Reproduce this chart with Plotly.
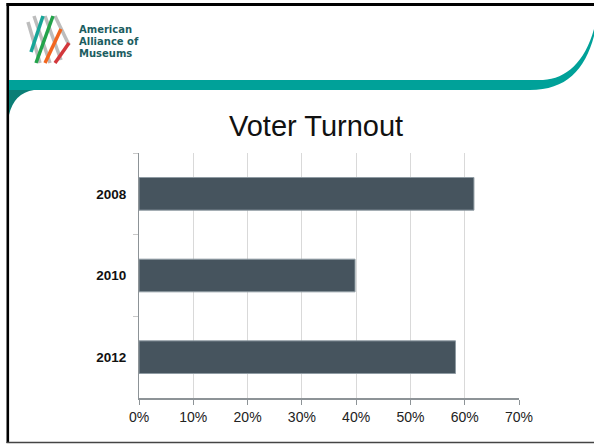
import plotly.graph_objects as go

years = ["2008", "2010", "2012"]
turnout = [61.7, 39.8, 58.3]
x_ticks = [0, 10, 20, 30, 40, 50, 60, 70]
x_tick_labels = ["0%", "10%", "20%", "30%", "40%", "50%", "60%", "70%"]

W, H = 594, 445
L, R, T, B = 139, 75, 153, 47
PW, PH = W - L - R, H - T - B


def px(x):
    return (x - L) / PW


def py(y):
    return (H - B - y) / PH


def path(cmds):
    out = []
    for c in cmds:
        if isinstance(c, str):
            out.append(c)
        else:
            out.append(f"{px(c[0]):.5f},{py(c[1]):.5f}")
    return " ".join(out)


fig = go.Figure()
fig.add_trace(go.Bar(
    y=years, x=turnout, orientation="h",
    marker=dict(color="#46545e", line=dict(color="#8f9ba3", width=1)),
    hoverinfo="skip",
))

shapes = []
# frame
shapes.append(dict(type="line", xref="paper", yref="paper", x0=px(7.8), x1=px(7.8), y0=py(3), y1=py(443),
                   line=dict(color="black", width=2.6)))
shapes.append(dict(type="line", xref="paper", yref="paper", x0=px(6.5), x1=px(594), y0=py(4.5), y1=py(4.5),
                   line=dict(color="black", width=3)))
shapes.append(dict(type="line", xref="paper", yref="paper", x0=px(6.5), x1=px(594), y0=py(442.5), y1=py(442.5),
                   line=dict(color="#444444", width=1.5)))
# teal band with curve to top right
shapes.append(dict(type="path", xref="paper", yref="paper",
                   path=path(["M", (9, 80), "L", (543, 80), "C", (566, 79), (585, 62), (594, 29),
                              "L", (594, 36), "C", (585, 70), (566, 90), (530, 90), "L", (9, 90), "Z"]),
                   fillcolor="#00a199", line=dict(width=0)))
# dark teal corner on left
shapes.append(dict(type="path", xref="paper", yref="paper",
                   path=path(["M", (9, 90), "L", (34, 90), "Q", (14, 93), (9, 115), "Z"]),
                   fillcolor="#0b7e76", line=dict(width=0)))

# logo strokes
gray = "#bdbdbd"
for (x0, y0, x1, y1) in [(28, 22, 40, 63), (34, 16, 50, 63), (45, 16, 61, 60), (55, 16, 69, 45)]:
    shapes.append(dict(type="line", xref="paper", yref="paper", x0=px(x0), y0=py(y0), x1=px(x1), y1=py(y1),
                       line=dict(color=gray, width=3.5)))
for (x0, y0, x1, y1, c) in [(43, 16, 31, 52, "#17a598"), (53, 16, 36, 63, "#23a34b"),
                            (61, 29, 45, 63, "#f2661f"), (69, 43, 55, 63, "#d2383c")]:
    shapes.append(dict(type="line", xref="paper", yref="paper", x0=px(x0), y0=py(y0), x1=px(x1), y1=py(y1),
                       line=dict(color=c, width=3.5)))

annotations = [
    dict(text="Voter Turnout", xref="paper", yref="paper", x=px(315.5), y=py(126), showarrow=False,
         xanchor="center", yanchor="middle", font=dict(family="Liberation Sans, Arial", size=29, color="#111111")),
]
for txt, yy in [("American", 29.5), ("Alliance of", 41.5), ("Museums", 53.5)]:
    annotations.append(dict(text=txt, xref="paper", yref="paper", x=px(77), y=py(yy), showarrow=False,
                            xanchor="left", yanchor="middle",
                            font=dict(family="DejaVu Sans", size=10, color="#1c5d61", weight="bold")))

fig.update_layout(
    width=W, height=H,
    margin=dict(l=L, r=R, t=T, b=B, pad=0),
    paper_bgcolor="white", plot_bgcolor="white",
    showlegend=False,
    bargap=0.6,
    shapes=shapes,
    annotations=annotations,
    xaxis=dict(range=[0, 70], tickvals=x_ticks, ticktext=x_tick_labels,
               showgrid=True, gridcolor="#d9d9d9", gridwidth=1,
               showline=True, linecolor="#8d9397", linewidth=1.5,
               ticks="outside", ticklen=5, tickcolor="#8d9397",
               zeroline=False, fixedrange=True,
               tickfont=dict(family="Liberation Sans, Arial", size=14, color="#222222")),
    yaxis=dict(autorange="reversed", type="category",
               showgrid=False, showline=True, linecolor="#8d9397", linewidth=1.2,
               ticks="outside", ticklen=5, tickcolor="#c8c8c8", tickson="boundaries",
               ticklabelstandoff=9, fixedrange=True,
               tickfont=dict(family="Liberation Sans, Arial", size=13.5, color="#111111", weight="bold")),
)

fig.write_html("out.html", config={"displayModeBar": False},
               post_script="document.body.style.margin='0';document.body.style.overflow='hidden';")
